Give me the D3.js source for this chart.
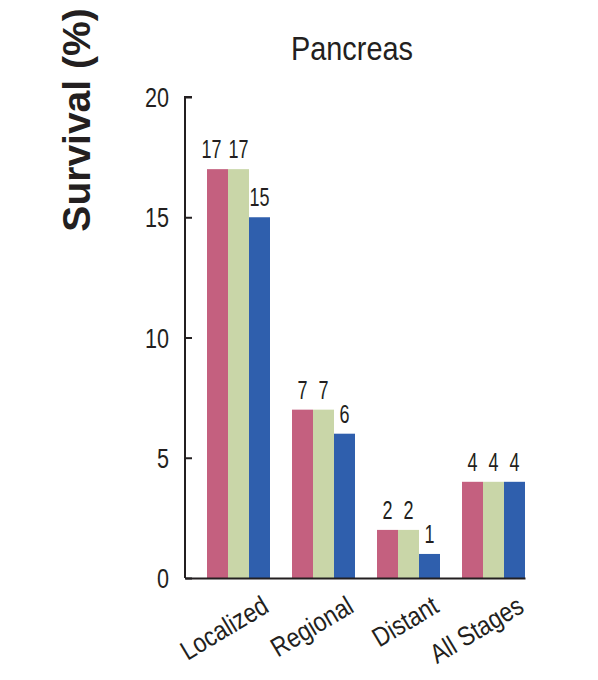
<!DOCTYPE html>
<html><head><meta charset="utf-8">
<script src="https://cdn.jsdelivr.net/npm/d3@7"></script>
<style>
html,body{margin:0;padding:0;background:#fff;}
svg text{font-family:"Liberation Sans",Arial,sans-serif;fill:#231f20;}
</style></head>
<body>
<svg id="chart" width="598" height="680"></svg>
<script>
const categories = ["Localized", "Regional", "Distant", "All Stages"];
const seriesNames = ["s1", "s2", "s3"];
const series1 = [17, 7, 2, 4];
const series2 = [17, 7, 2, 4];
const series3 = [15, 6, 1, 4];
const yTicks = [0, 5, 10, 15, 20];
const colors = ["#c4607f", "#c9d6a8", "#2f5fad"];
const title = "Pancreas";
const yTitle = "Survival (%)";

(function () {
const svg = d3.select("#chart");
const mLeft = 185, mRight = 525, mTop = 97, mBottom = 578;
const narrow = 0.8;

const y = d3.scaleLinear().domain([0, 20]).range([mBottom, mTop]);
const x0 = d3.scaleBand().domain(categories).range([mLeft, mRight]).padding(0);
const x1 = d3.scaleBand().domain(seriesNames).range([22, x0.bandwidth()]).padding(0);

const allSeries = [series1, series2, series3];
const rows = categories.map((c, i) => ({cat: c, vals: seriesNames.map((s, j) => ({s, v: allSeries[j][i], j}))}));

const g = svg.append("g");
const grp = g.selectAll("g.grp").data(rows).join("g")
  .attr("transform", d => `translate(${x0(d.cat)},0)`);
grp.selectAll("rect").data(d => d.vals).join("rect")
  .attr("x", d => x1(d.s))
  .attr("width", x1.bandwidth())
  .attr("y", d => y(d.v))
  .attr("height", d => y(0) - y(d.v))
  .attr("fill", d => colors[d.j]);
grp.selectAll("text.val").data(d => d.vals).join("text")
  .attr("class", "val")
  .attr("transform", d => `translate(${x1(d.s) + x1.bandwidth() / 2 + ((d.j === 0 && d.v >= 10) ? -6 : 0)},${y(d.v) - 11}) scale(0.72,1)`)
  .attr("text-anchor", "middle")
  .attr("font-size", 25)
  .text(d => d.v);

// y axis
const yAxis = d3.axisRight(y).tickValues(yTicks).tickSize(7).tickFormat("");
const ya = svg.append("g").attr("transform", `translate(${mLeft},0)`).call(yAxis);
ya.select(".domain").attr("d", `M7,${mTop}H0V${mBottom}`).attr("stroke", "#231f20").attr("stroke-width", 2);
ya.selectAll(".tick line").attr("stroke", "#231f20").attr("stroke-width", 2);
svg.append("g").selectAll("text").data(yTicks).join("text")
  .attr("transform", d => `translate(169,${y(d) + 10}) scale(${narrow},1)`)
  .attr("text-anchor", "end").attr("font-size", 27)
  .text(d => d);

// x baseline
const xAxis = d3.axisBottom(x0).tickSize(0).tickFormat("");
const xa = svg.append("g").attr("transform", `translate(0,${mBottom})`).call(xAxis);
xa.select(".domain").attr("stroke", "#231f20").attr("stroke-width", 2);

svg.append("g").selectAll("text").data(categories).join("text")
  .attr("transform", d => `translate(${x0(d) + x0.bandwidth() / 2 + 43},${mBottom + 33}) rotate(-31) scale(0.85,1)`)
  .attr("text-anchor", "end").attr("font-size", 27)
  .text(d => d);

svg.append("text").attr("transform", "translate(352,60) scale(0.85,1)").attr("text-anchor", "middle")
  .attr("font-size", 34).text(title);

svg.append("text").attr("transform", "translate(90,120) rotate(-90)")
  .attr("text-anchor", "middle").attr("font-size", 39).attr("font-weight", "bold")
  .text(yTitle);
})();
</script>
</body></html>
